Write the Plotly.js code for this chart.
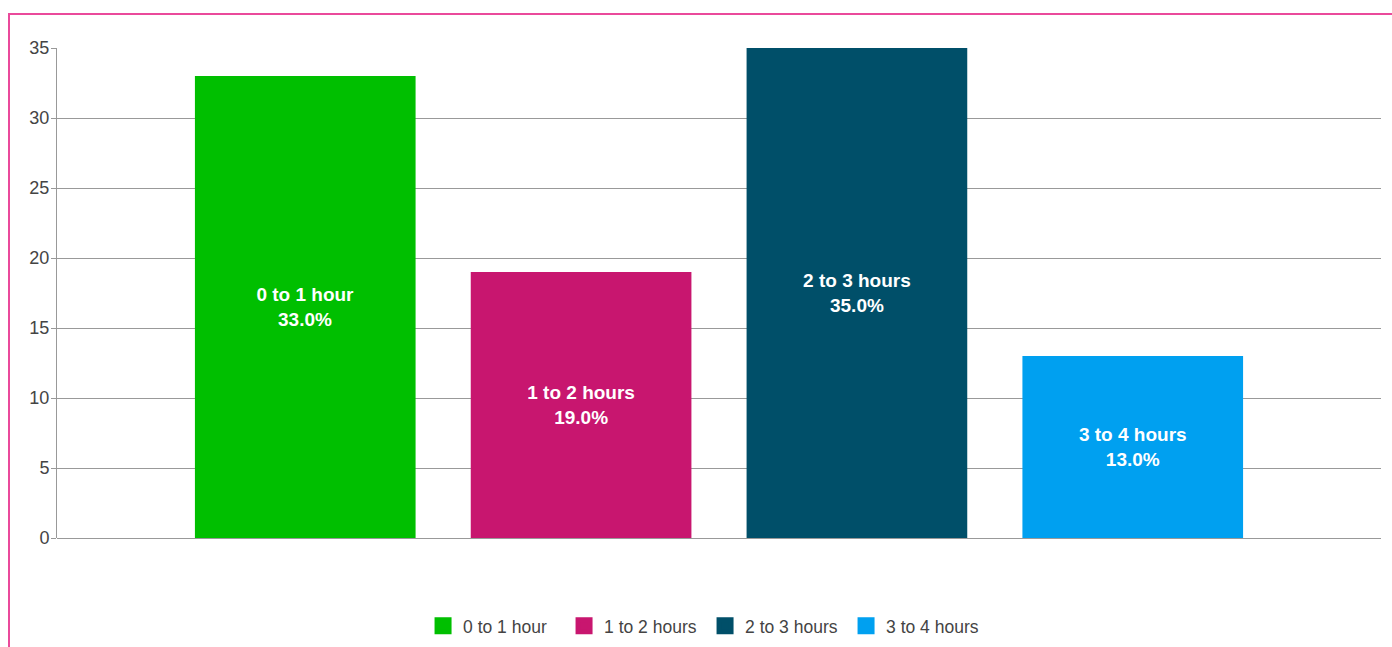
<!DOCTYPE html>
<html>
<head>
<meta charset="utf-8">
<script src="https://cdn.plot.ly/plotly-3.0.1.min.js"></script>
<style>
  html, body { margin: 0; padding: 0; background: #ffffff; overflow: hidden; }
  #frame {
    position: absolute; left: 8px; top: 13px; width: 2000px; height: 2000px;
    border-left: 2px solid #ea4a9b; border-top: 2px solid #ea4a9b;
    pointer-events: none;
  }
  #chart { position: absolute; left: 0; top: 0; width: 1392px; height: 647px; }
</style>
</head>
<body>
<div id="frame"></div>
<div id="chart"></div>
<script>
// Time spent per day, share of respondents (%)
const categories = ['0 to 1 hour', '1 to 2 hours', '2 to 3 hours', '3 to 4 hours'];
const shares = [33, 19, 35, 13];
const colors = ['#00bf00', '#c8166f', '#004f69', '#00a0f0'];

const traces = [];
categories.forEach((cat, i) => {
  // the bar itself, labelled with its category and share
  traces.push({
    type: 'bar',
    x: [cat],
    y: [shares[i]],
    width: 0.8,
    name: cat,
    legendgroup: cat,
    showlegend: false,
    marker: { color: colors[i], line: { width: 0 } },
    text: [cat + '<br>' + shares[i].toFixed(1) + '%'],
    textposition: 'inside',
    insidetextanchor: 'middle',
    textangle: 0,
    constraintext: 'none',
    textfont: { family: 'Liberation Sans, Arial, sans-serif', size: 19, color: '#ffffff', weight: 'bold' },
    hoverinfo: 'skip'
  });
  // legend entry with a larger swatch
  traces.push({
    type: 'bar',
    x: [cat],
    y: [null],
    name: cat,
    legendgroup: cat,
    showlegend: true,
    marker: { color: colors[i], line: { color: colors[i], width: 5 } },
    hoverinfo: 'skip'
  });
});

const layout = {
  width: 1392,
  height: 647,
  margin: { l: 57, r: 11, t: 48, b: 109 },
  paper_bgcolor: 'rgba(0,0,0,0)',
  plot_bgcolor: 'rgba(0,0,0,0)',
  barmode: 'overlay',
  font: { family: 'Liberation Sans, Arial, sans-serif', size: 18, color: '#444444' },
  xaxis: {
    type: 'category',
    categoryarray: categories,
    range: [-0.9, 3.9],
    showticklabels: false,
    ticks: '',
    showgrid: false,
    zeroline: false,
    showline: false,
    fixedrange: true
  },
  yaxis: {
    range: [0, 35],
    dtick: 5,
    ticks: 'outside',
    ticklen: 5,
    tickcolor: '#999999',
    ticklabelstandoff: -2,
    tickfont: { size: 18, color: '#444444' },
    showgrid: true,
    gridcolor: '#999999',
    gridwidth: 1,
    showline: true,
    linecolor: '#999999',
    linewidth: 1,
    zeroline: true,
    zerolinecolor: '#999999',
    zerolinewidth: 1,
    automargin: false,
    fixedrange: true
  },
  showlegend: true,
  legend: {
    orientation: 'h',
    xref: 'container',
    yref: 'container',
    x: 0.5065,
    xanchor: 'center',
    y: 0.0325,
    yanchor: 'middle',
    entrywidth: 96,
    entrywidthmode: 'pixels',
    font: { size: 17.5, color: '#444444' },
    traceorder: 'normal',
    itemclick: false,
    itemdoubleclick: false
  }
};

Plotly.newPlot('chart', traces, layout, { displayModeBar: false, staticPlot: true });
</script>
</body>
</html>
